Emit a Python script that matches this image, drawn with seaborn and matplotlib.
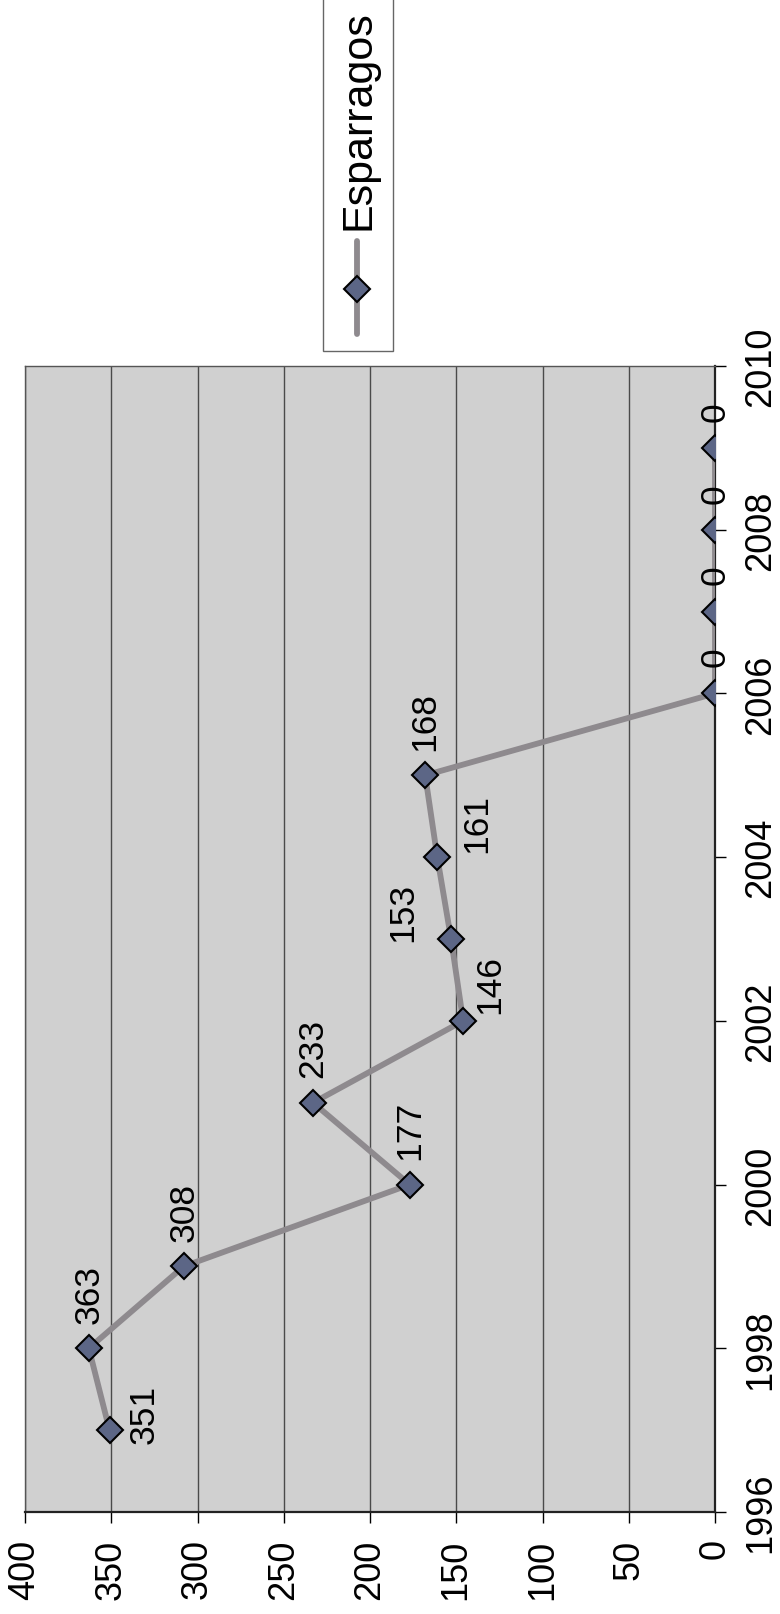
import matplotlib
matplotlib.use("Agg")
import matplotlib.pyplot as plt
from matplotlib.patches import Rectangle
from matplotlib.lines import Line2D
import pandas as pd
import seaborn as sns

# chart data (the picture is a chart turned on its side)
years = [1997, 1998, 1999, 2000, 2001, 2002, 2003, 2004, 2005, 2006, 2007, 2008, 2009]
esparragos = [351, 363, 308, 177, 233, 146, 153, 161, 168, 0, 0, 0, 0]
value_ticks = [0, 50, 100, 150, 200, 250, 300, 350, 400]
year_ticks = [1996, 1998, 2000, 2002, 2004, 2006, 2008, 2010]
series_name = "Esparragos"

# label offsets in pixels (right, down) for the labels that were moved by hand
label_shift = {0: (35, -17), 5: (27, -37), 6: (-48, -28), 7: (39, -35)}

LINE = "#8e8a8e"
FACE = "#5c6686"
W, H = 780, 1615

sns.set_style("white")
plt.rcParams["font.family"] = ["Liberation Sans", "DejaVu Sans"]

df = pd.DataFrame({"year": years, "value": esparragos})

fig = plt.figure(figsize=(W / 100, H / 100), dpi=100)
ax = fig.add_axes([25 / W, (H - 1513) / H, 690 / W, 1146 / H])
ax.set_facecolor("#d0d0d0")

sns.lineplot(data=df, x="value", y="year", orient="y", sort=False, estimator=None,
             ax=ax, color=LINE, linewidth=4.2, marker="D", markersize=13,
             markerfacecolor=FACE, markeredgecolor="black", markeredgewidth=1.5,
             zorder=3)

for i, (yr, v) in enumerate(zip(years, esparragos)):
    txt = str(v)
    dx, dy = label_shift.get(i, (0, -55 if len(txt) == 3 else -37))
    ax.annotate(txt, (v, yr), xytext=(dx * 0.72, -dy * 0.72), textcoords="offset points",
                rotation=90, ha="center", va="center", fontsize=25.5, color="black", zorder=4)

ax.set_xlim(400, 0)
ax.set_ylim(1996, 2010)
ax.set_xticks(value_ticks)
ax.set_yticks(year_ticks)
ax.yaxis.tick_right()
ax.set_xlabel("")
ax.set_ylabel("")

ax.grid(False)
ax.xaxis.grid(True, color="#4a4a4a", linewidth=1.0)
ax.set_axisbelow(True)

ax.tick_params(axis="x", labelrotation=90, labelsize=26, length=8, width=1,
               direction="out", pad=11, colors="black", bottom=True)
ax.tick_params(axis="y", labelrotation=90, labelsize=26, length=8, width=1,
               direction="out", pad=12, colors="black", right=True, left=False)
for lab in ax.get_yticklabels():
    lab.set_va("center")

for side in ["top", "left"]:
    ax.spines[side].set_color("#555555")
    ax.spines[side].set_linewidth(1.0)
for side in ["right", "bottom"]:
    ax.spines[side].set_color("#222222")
    ax.spines[side].set_linewidth(1.6)

# legend box, drawn by hand so it can be turned like the rest
fig.add_artist(Rectangle((323 / W, (H - 352) / H), 70 / W, 360 / H, transform=fig.transFigure,
                         facecolor="white", edgecolor="#666666", linewidth=1.0))
fig.add_artist(Line2D([357 / W, 357 / W], [(H - 242) / H, (H - 335) / H],
                      transform=fig.transFigure, color=LINE, linewidth=4.2))
fig.add_artist(Line2D([357 / W], [(H - 290) / H], transform=fig.transFigure,
                      marker="D", markersize=13, markerfacecolor=FACE,
                      markeredgecolor="black", markeredgewidth=1.5, linestyle="none"))
fig.text(358 / W, (H - 120) / H, series_name, rotation=90, ha="center", va="center",
         fontsize=31, color="black")

fig.savefig("out.png", dpi=100)
